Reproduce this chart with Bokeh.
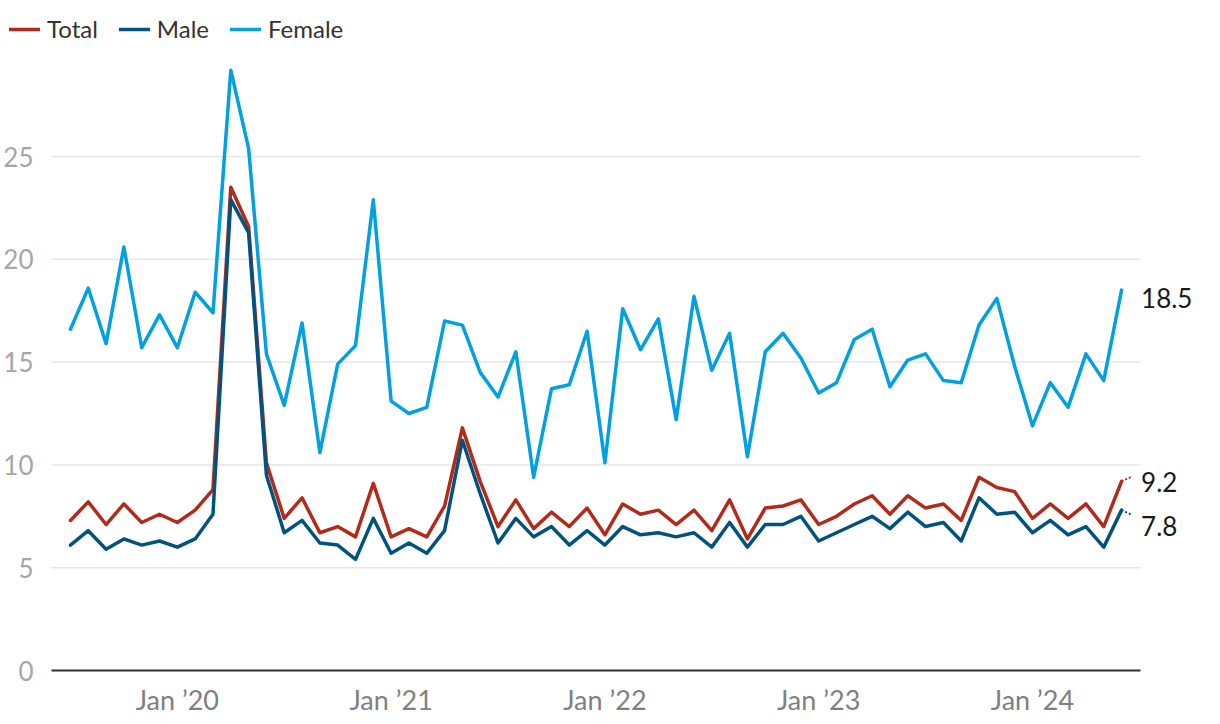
from bokeh.plotting import figure
from bokeh.models import (Range1d, FixedTicker, Legend, LegendItem, LabelSet,
                          ColumnDataSource, Arrow)
from bokeh.core.properties import value
from bokeh.embed import file_html
from bokeh.resources import INLINE

# Monthly series, Jul 2019 .. Jun 2024
total = [7.3, 8.2, 7.1, 8.1, 7.2, 7.6, 7.2, 7.8, 8.8, 23.5,
         21.6, 10.1, 7.4, 8.4, 6.7, 7.0, 6.5, 9.1, 6.5, 6.9,
         6.5, 8.0, 11.8, 9.2, 7.0, 8.3, 6.9, 7.7, 7.0, 7.9,
         6.6, 8.1, 7.6, 7.8, 7.1, 7.8, 6.8, 8.3, 6.4, 7.9,
         8.0, 8.3, 7.1, 7.5, 8.1, 8.5, 7.6, 8.5, 7.9, 8.1,
         7.3, 9.4, 8.9, 8.7, 7.4, 8.1, 7.4, 8.1, 7.0, 9.2]
male = [6.1, 6.8, 5.9, 6.4, 6.1, 6.3, 6.0, 6.4, 7.6, 22.9,
        21.3, 9.5, 6.7, 7.3, 6.2, 6.1, 5.4, 7.4, 5.7, 6.2,
        5.7, 6.8, 11.2, 8.6, 6.2, 7.4, 6.5, 7.0, 6.1, 6.8,
        6.1, 7.0, 6.6, 6.7, 6.5, 6.7, 6.0, 7.2, 6.0, 7.1,
        7.1, 7.5, 6.3, 6.7, 7.1, 7.5, 6.9, 7.7, 7.0, 7.2,
        6.3, 8.4, 7.6, 7.7, 6.7, 7.3, 6.6, 7.0, 6.0, 7.8]
female = [16.6, 18.6, 15.9, 20.6, 15.7, 17.3, 15.7, 18.4, 17.4, 29.2,
          25.4, 15.4, 12.9, 16.9, 10.6, 14.9, 15.8, 22.9, 13.1, 12.5,
          12.8, 17.0, 16.8, 14.5, 13.3, 15.5, 9.4, 13.7, 13.9, 16.5,
          10.1, 17.6, 15.6, 17.1, 12.2, 18.2, 14.6, 16.4, 10.4, 15.5,
          16.4, 15.2, 13.5, 14.0, 16.1, 16.6, 13.8, 15.1, 15.4, 14.1,
          14.0, 16.8, 18.1, 14.8, 11.9, 14.0, 12.8, 15.4, 14.1, 18.5]
series_names = ["Total", "Male", "Female"]
x_tick_pos = [6, 18, 30, 42, 54]
x_tick_labels = ["Jan \u201920", "Jan \u201921", "Jan \u201922", "Jan \u201923", "Jan \u201924"]
y_ticks = [0, 5, 10, 15, 20, 25]

x = list(range(len(total)))
colors = {"Total": "#B22A1A", "Male": "#00537F", "Female": "#00A0E1"}
FONT = "Lato"

W, H = 1212, 720
PX_X = 17.83        # px per month
PX_Y = 20.56        # px per unit
X0, X1 = -1.07, 60.07          # extent of the data area (grid / axis line)
XL = -3.87                     # frame starts at the left edge
X_END = XL + W / PX_X
BOTTOM = 50
FRAME_H = H - BOTTOM
Y_TOP = FRAME_H / PX_Y

p = figure(width=W, height=H, output_backend="svg", toolbar_location=None,
           x_range=Range1d(XL, X_END), y_range=Range1d(0, Y_TOP),
           min_border_left=0, min_border_right=0, min_border_top=0,
           min_border_bottom=BOTTOM)
p.outline_line_color = None
p.background_fill_color = "white"
p.border_fill_color = "white"

p.xgrid.visible = False
p.ygrid.visible = False
# horizontal grid lines limited to the data area
p.segment(x0=[X0] * len(y_ticks), x1=[X1] * len(y_ticks), y0=y_ticks, y1=y_ticks,
          line_color="#e6e6e6", line_width=1.5)

p.yaxis.ticker = FixedTicker(ticks=y_ticks)
p.yaxis.axis_line_color = None
p.yaxis.major_tick_line_color = None
p.yaxis.minor_tick_line_color = None
p.yaxis.major_label_standoff = -38
p.yaxis.major_label_text_font = FONT
p.yaxis.major_label_text_font_size = "26px"
p.yaxis.major_label_text_color = "#a6a6a6"

p.xaxis.ticker = FixedTicker(ticks=x_tick_pos)
p.xaxis.bounds = (X0, X1)
p.xaxis.major_label_overrides = dict(zip(x_tick_pos, x_tick_labels))
p.xaxis.axis_line_color = "#333333"
p.xaxis.axis_line_width = 2
p.xaxis.major_tick_line_color = None
p.xaxis.minor_tick_line_color = None
p.xaxis.major_label_standoff = 6
p.xaxis.major_label_text_font = FONT
p.xaxis.major_label_text_font_size = "27px"
p.xaxis.major_label_text_color = "#808080"

renderers = {}
for name, vals in zip(series_names, [total, male, female]):
    renderers[name] = p.line(x, vals, line_color=colors[name], line_width=3.5,
                             line_join="round", line_cap="round")

legend = Legend(items=[LegendItem(label=n, renderers=[renderers[n]]) for n in series_names],
                location=(8, FRAME_H - 43), orientation="horizontal",
                padding=2, margin=0, spacing=21, glyph_width=31, glyph_height=20,
                label_height=20, label_standoff=7,
                label_text_font=FONT, label_text_font_size="24px",
                label_text_color="#333333",
                border_line_color=None, background_fill_alpha=0)
p.add_layout(legend)

# end-of-line labels
last = x[-1]
end_vals = [total[-1], male[-1], female[-1]]
label_src = ColumnDataSource(dict(
    x=[last] * 3,
    y=end_vals,
    text=[f"{v:.1f}" for v in end_vals],
    yoff=[-0.5, -16, -8],
))
p.add_layout(LabelSet(x="x", y="y", text="text", source=label_src,
                      x_offset=19.5, y_offset="yoff", text_baseline="middle",
                      text_font=value(FONT), text_font_size="26px",
                      text_color="#1a1a1a"))

for v, dy, name in [(total[-1], 5, "Total"), (male[-1], -5, "Male")]:
    p.add_layout(Arrow(end=None, x_start=last, y_start=v,
                       x_end=last + 11 / PX_X, y_end=v + dy / PX_Y,
                       line_color=colors[name], line_width=2, line_dash="2 2"))

open("out.html", "w").write(file_html(p, INLINE))
